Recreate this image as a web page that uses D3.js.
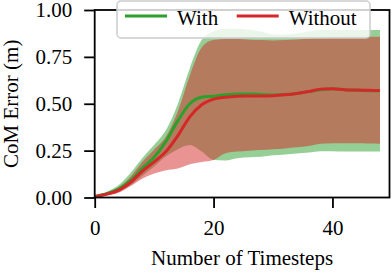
<html>
<head>
<meta charset="UTF-8">
<title>CoM Error</title>
<script src="https://d3js.org/d3.v7.min.js"></script>
<style>html,body{margin:0;padding:0;background:#fff;}</style>
</head>
<body>
<div id="container"></div>
<script>
// timesteps (every 2 steps)
const steps = [0,2,4,6,8,10,12,14,16,18,20,22,24,26,28,30,32,34,36,38,40,42,44,46,48]
// "With" series
const withMean = [0.005,0.02,0.045,0.09,0.155,0.215,0.3,0.41,0.50,0.535,0.54,0.548,0.552,0.552,0.55,0.547,0.549,0.555,0.565,0.575,0.58,0.575,0.572,0.57,0.57]
const withLo   = [0.0,0.012,0.03,0.065,0.115,0.165,0.22,0.258,0.28,0.245,0.2,0.198,0.21,0.215,0.218,0.225,0.23,0.235,0.24,0.247,0.247,0.245,0.245,0.245,0.245]
const withHi   = [0.01,0.03,0.065,0.13,0.21,0.28,0.36,0.50,0.69,0.84,0.885,0.9,0.9,0.895,0.885,0.87,0.87,0.875,0.885,0.895,0.895,0.893,0.893,0.893,0.893]
// "Without" series
const withoutMean = [0.005,0.018,0.038,0.08,0.14,0.19,0.245,0.33,0.43,0.495,0.525,0.535,0.54,0.542,0.541,0.543,0.548,0.555,0.565,0.578,0.58,0.575,0.573,0.572,0.57]
const withoutLo   = [0.0,0.01,0.025,0.06,0.1,0.128,0.145,0.155,0.178,0.19,0.2,0.236,0.245,0.25,0.253,0.258,0.262,0.268,0.275,0.287,0.29,0.29,0.289,0.288,0.287]
const withoutHi   = [0.01,0.025,0.055,0.11,0.19,0.255,0.325,0.46,0.65,0.8,0.84,0.845,0.845,0.842,0.84,0.838,0.84,0.843,0.848,0.852,0.855,0.856,0.857,0.857,0.857]
const xTicks = [0, 20, 40]
const yTicks = [0, 0.25, 0.5, 0.75, 1.0]
const seriesNames = ['With', 'Without']

const width = 392, height = 273
const box = {left: 94.7, right: 389.5, top: 10, bottom: 197.5}
const font = '"Liberation Serif", "Times New Roman", serif'
const green = '#2ca02c', red = '#d62728'

const svg = d3.select('#container').append('svg')
    .attr('width', width).attr('height', height)
    .style('font-family', font)

const x = d3.scaleLinear().domain([0, 49.6]).range([box.left, box.right])
const y = d3.scaleLinear().domain([0, 1]).range([box.bottom, box.top])

svg.append('clipPath').attr('id', 'clip')
  .append('rect')
    .attr('x', box.left).attr('y', box.top)
    .attr('width', box.right - box.left).attr('height', box.bottom - box.top)

const plot = svg.append('g').attr('clip-path', 'url(#clip)')

function band(lo, hi) {
  return d3.area()
    .x((d, i) => x(steps[i]))
    .y0((d, i) => y(lo[i]))
    .y1((d, i) => y(hi[i]))
    .curve(d3.curveMonotoneX)(steps)
}
function line(vals) {
  return d3.line()
    .x((d, i) => x(steps[i]))
    .y((d, i) => y(vals[i]))
    .curve(d3.curveMonotoneX)(steps)
}

plot.append('path').attr('d', band(withLo, withHi)).attr('fill', green).attr('fill-opacity', 0.5)
plot.append('path').attr('d', band(withoutLo, withoutHi)).attr('fill', red).attr('fill-opacity', 0.5)
plot.append('path').attr('d', line(withMean)).attr('fill', 'none').attr('stroke', green).attr('stroke-width', 3)
plot.append('path').attr('d', line(withoutMean)).attr('fill', 'none').attr('stroke', red).attr('stroke-width', 3)

// spines
svg.append('rect')
    .attr('x', box.left).attr('y', box.top)
    .attr('width', box.right - box.left).attr('height', box.bottom - box.top)
    .attr('fill', 'none').attr('stroke', '#000').attr('stroke-width', 1.8)

// axes
const xAxis = svg.append('g')
    .attr('transform', 'translate(0,' + box.bottom + ')')
    .call(d3.axisBottom(x).tickValues(xTicks).tickSize(10.5).tickPadding(12).tickFormat(d3.format('d')))
const yAxis = svg.append('g')
    .attr('transform', 'translate(' + box.left + ',0)')
    .call(d3.axisLeft(y).tickValues(yTicks).tickSize(10.5).tickPadding(12).tickFormat(d3.format('.2f')))

;[xAxis, yAxis].forEach(a => {
  a.select('.domain').remove()
  a.selectAll('line').attr('stroke', '#000').attr('stroke-width', 1.8)
  a.selectAll('text').attr('fill', '#000').style('font-size', '21px').style('font-family', font)
})

svg.append('text')
    .attr('x', (box.left + box.right) / 2).attr('y', 265)
    .attr('text-anchor', 'middle').style('font-size', '21px')
    .text('Number of Timesteps')

svg.append('text')
    .attr('transform', 'translate(18,' + (box.top + box.bottom) / 2 + ') rotate(-90)')
    .attr('text-anchor', 'middle').style('font-size', '21px')
    .text('CoM Error (m)')

// legend
const legend = svg.append('g')
legend.append('rect')
    .attr('x', 117).attr('y', 1).attr('width', 253).attr('height', 37).attr('rx', 4)
    .attr('fill', '#fff').attr('fill-opacity', 0.8)
    .attr('stroke', '#cccccc').attr('stroke-width', 1.5)
const legendX = [125, 236.7]
const legendColors = [green, red]
seriesNames.forEach((name, i) => {
  legend.append('line')
      .attr('x1', legendX[i]).attr('x2', legendX[i] + 42)
      .attr('y1', 16).attr('y2', 16)
      .attr('stroke', legendColors[i]).attr('stroke-width', 3)
  legend.append('text')
      .attr('x', legendX[i] + 52).attr('y', 25)
      .style('font-size', '21px')
      .text(name)
})
</script>
</body>
</html>
